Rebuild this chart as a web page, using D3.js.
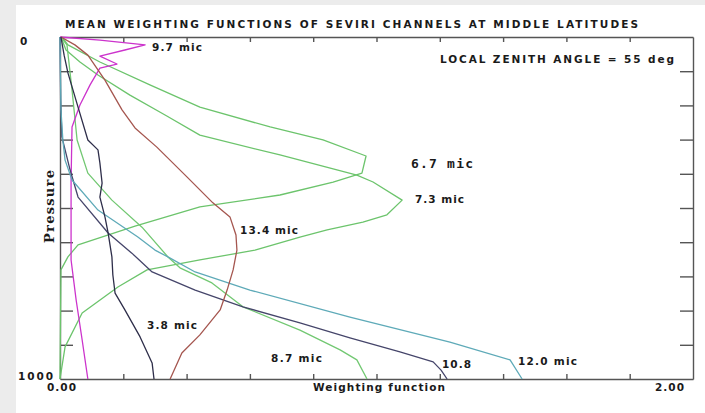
<!DOCTYPE html>
<html><head><meta charset="utf-8">
<script src="https://cdn.jsdelivr.net/npm/d3@7"></script>
<style>
html,body{margin:0;padding:0;background:#ececec;overflow:hidden;}
svg{display:block;}
</style></head><body>
<svg id="c" width="705" height="413"></svg>
<script>
// ---- data: [weighting function, pressure (hPa)] ----
const ch67 = [[0.006,0],[0.025,23],[0.126,73],[0.284,140],[0.442,205],[0.664,263],[0.831,301],[0.967,348],[0.954,398],[0.863,424],[0.695,462],[0.442,497],[0.237,553],[0.057,608],[0.025,643],[0.003,681],[0,1000]];
const ch73 = [[0.003,0],[0.019,38],[0.063,73],[0.120,111],[0.221,170],[0.332,228],[0.442,287],[0.695,345],[0.938,404],[0.989,424],[1.081,477],[1.033,520],[0.957,541],[0.844,564],[0.758,585],[0.616,623],[0.442,652],[0.275,681],[0.183,731],[0.070,807],[0.016,906],[0,1000]];
const ch87 = [[0.003,0],[0.022,23],[0.038,155],[0.054,301],[0.088,398],[0.164,477],[0.259,556],[0.341,643],[0.379,675],[0.480,719],[0.578,789],[0.758,857],[0.885,915],[0.938,944],[0.970,1000]];
const ch97 = [[0,0],[0.126,9],[0.269,23],[0.205,38],[0.126,56],[0.180,79],[0.126,91],[0.095,140],[0.063,199],[0.038,263],[0.035,418],[0.035,652],[0.051,769],[0.070,886],[0.088,1000]];
const ch108 = [[0,0],[0.002,184],[0.006,292],[0.032,389],[0.057,468],[0.152,573],[0.227,632],[0.291,687],[0.427,740],[0.578,789],[0.758,836],[0.916,880],[1.074,921],[1.179,950],[1.204,974],[1.223,1000]];
const ch120 = [[0,0],[0.003,213],[0.009,301],[0.016,360],[0.038,418],[0.120,506],[0.246,585],[0.300,623],[0.341,643],[0.427,687],[0.600,740],[0.916,819],[1.232,892],[1.422,944],[1.460,1000]];
const ch134 = [[0.003,0],[0.047,23],[0.088,53],[0.142,126],[0.196,213],[0.237,266],[0.306,322],[0.401,409],[0.483,485],[0.537,526],[0.556,579],[0.559,623],[0.547,681],[0.528,740],[0.506,798],[0.442,871],[0.385,924],[0.348,1000]];
const ch38 = [[0.003,0],[0.013,53],[0.025,105],[0.057,205],[0.088,301],[0.120,330],[0.126,368],[0.133,427],[0.126,468],[0.142,526],[0.152,573],[0.164,643],[0.167,696],[0.174,749],[0.205,798],[0.253,877],[0.291,953],[0.297,1000]];

const channelNames = ["6.7 mic","7.3 mic","8.7 mic","9.7 mic","10.8","12.0 mic","13.4 mic","3.8 mic"];
const channelData  = [ch67, ch73, ch87, ch97, ch108, ch120, ch134, ch38];
const xTicks = [0,0.2,0.4,0.6,0.8,1.0,1.2,1.4,1.6,1.8,2.0];
const yTicks = [0,100,200,300,400,500,600,700,800,900,1000];
const xTickLabels = ["0.00","2.00"];
const yTickLabels = ["0","1000"];
const titleText = "MEAN WEIGHTING FUNCTIONS OF SEVIRI CHANNELS AT MIDDLE LATITUDES";
const noteText = "LOCAL ZENITH ANGLE = 55 deg";
const xTitle = "Weighting function";
const yTitle = "Pressure";

// ---- drawing ----
const svg = d3.select("#c");
svg.append("rect").attr("x",16).attr("y",5).attr("width",689).attr("height",408).attr("fill","#ffffff");

const x = d3.scaleLinear().domain([0,2]).range([60,693]);
const y = d3.scaleLinear().domain([0,1000]).range([37,379]);

const axisColor = "#555";
function styleAxis(g){ g.selectAll("path,line").attr("stroke",axisColor).attr("stroke-width",1.4); g.selectAll("text").remove(); }

svg.append("g").attr("transform","translate(0,37)")
  .call(d3.axisBottom(x).tickValues(xTicks.slice(1,-1)).tickSizeInner(5).tickSizeOuter(0).tickFormat(""))
  .call(styleAxis);
svg.append("g").attr("transform","translate(0,379)")
  .call(d3.axisTop(x).tickValues(xTicks.slice(1,-1)).tickSizeInner(5).tickSizeOuter(0).tickFormat(""))
  .call(styleAxis);
svg.append("g").attr("transform","translate(693,0)")
  .call(d3.axisLeft(y).tickValues(yTicks.slice(1,-1)).tickSizeInner(13).tickSizeOuter(0).tickFormat(""))
  .call(styleAxis);
svg.append("g").attr("transform","translate(60,0)")
  .call(d3.axisRight(y).tickValues(yTicks.slice(1,-1)).tickSizeInner(13).tickSizeOuter(0).tickFormat(""))
  .call(styleAxis);

const colors = {"6.7 mic":"#6cc46c","7.3 mic":"#6cc46c","8.7 mic":"#72c872","9.7 mic":"#cc33cc",
  "10.8":"#45456a","12.0 mic":"#5eaab8","13.4 mic":"#a5564f","3.8 mic":"#2e2e4a"};

const line = d3.line().x(d=>x(d[0])).y(d=>y(d[1])).curve(d3.curveLinear);
svg.append("g").selectAll("path").data(channelData).join("path")
  .attr("d", line).attr("fill","none")
  .attr("stroke",(d,i)=>colors[channelNames[i]]).attr("stroke-width",1.3)
  .attr("stroke-linejoin","round");

// labels
const bold = "'DejaVu Sans', 'Liberation Sans', sans-serif";
function txt(s, px, py, len, opts={}){
  const t = svg.append("text").attr("x",px).attr("y",py).text(s)
    .attr("font-family", opts.family || bold).attr("font-weight","bold")
    .attr("font-size", opts.size || 10.5).attr("fill", opts.fill || "#1a1a1a");
  if(len) t.attr("textLength",len).attr("lengthAdjust","spacing");
  return t;
}
txt(titleText, 65, 28, 573);
txt(noteText, 440, 63, 234);

const labelPos = {"9.7 mic":[152,51,50],"6.7 mic":[411,168,62],"7.3 mic":[415,203,49],"13.4 mic":[240,234,58],
  "3.8 mic":[147,329,50],"8.7 mic":[271,362,51],"10.8":[442,368,29],"12.0 mic":[518,365,59]};
channelNames.forEach(n=>{
  const p = labelPos[n];
  if(n==="6.7 mic") txt(n,p[0],p[1],p[2],{family:"'DejaVu Sans Mono', monospace",size:13});
  else txt(n,p[0],p[1],p[2]);
});

txt(yTickLabels[0], 20, 45, null);
txt(yTickLabels[1], 18, 380, 35);
txt(xTickLabels[0], 47, 391, 29);
txt(xTickLabels[1], 655, 391, 29);
txt(xTitle, 313, 391, 132);
svg.append("text").attr("transform","translate(54,243) rotate(-90)").text(yTitle)
  .attr("font-family","'DejaVu Serif', 'Liberation Serif', serif").attr("font-weight","bold").attr("font-size",13)
  .attr("textLength",73).attr("lengthAdjust","spacing").attr("fill","#1a1a1a");
</script>
</body></html>
